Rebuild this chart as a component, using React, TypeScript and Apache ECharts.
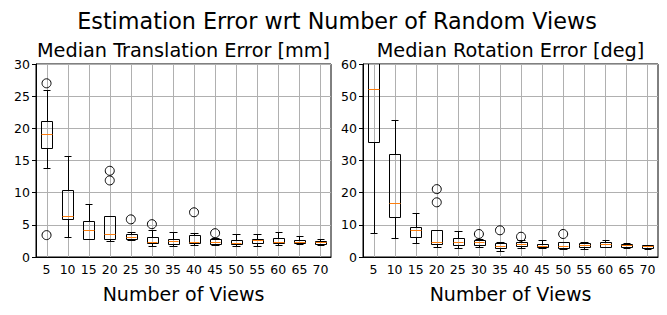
import React, { useEffect, useRef } from "react";
import * as echarts from "echarts";

const categories = ["5", "10", "15", "20", "25", "30", "35", "40", "45", "50", "55", "60", "65", "70"];

// Translation error [mm]: whisker low, Q1, median, Q3, whisker high
const transLow = [13.8, 3.1, 2.8, 2.45, 2.6, 1.7, 1.7, 1.8, 1.85, 1.65, 1.65, 1.9, 2.0, 1.85];
const transQ1 = [17.0, 5.9, 2.85, 2.75, 2.85, 2.2, 2.0, 2.1, 2.0, 2.0, 2.1, 2.2, 2.1, 2.05];
const transMed = [19.1, 6.4, 4.15, 3.6, 3.1, 2.3, 2.5, 2.4, 2.3, 2.1, 2.6, 2.4, 2.35, 2.3];
const transQ3 = [21.1, 10.4, 5.55, 6.4, 3.6, 3.1, 2.75, 3.4, 2.75, 2.65, 2.8, 2.95, 2.6, 2.5];
const transHigh = [26.0, 15.7, 8.2, 6.4, 3.9, 4.2, 3.85, 3.7, 2.9, 3.6, 3.6, 3.9, 3.2, 2.75];
const transOutliers: [number, number][] = [
  [0, 27.0], [0, 3.4], [3, 13.4], [3, 11.9], [4, 5.85], [5, 5.1], [7, 6.95], [8, 3.7],
];

// Rotation error [deg]
const rotLow = [7.4, 5.8, 4.3, 3.0, 2.7, 3.1, 1.9, 2.7, 2.8, 2.5, 2.4, 3.0, 2.7, 2.5];
const rotQ1 = [35.7, 12.3, 6.1, 3.95, 3.6, 3.6, 2.7, 3.5, 3.0, 2.7, 3.0, 3.0, 3.1, 2.8];
const rotMed = [52.1, 16.7, 8.3, 4.8, 4.8, 4.8, 3.4, 4.15, 3.4, 3.3, 3.7, 3.95, 3.7, 3.3];
const rotQ3 = [68.0, 31.9, 9.2, 8.3, 5.8, 5.2, 4.4, 4.8, 4.0, 4.65, 4.25, 4.65, 4.15, 3.6];
const rotHigh = [85.0, 42.5, 13.6, 8.3, 8.0, 5.5, 4.6, 5.3, 5.3, 4.65, 4.65, 5.3, 4.35, 3.8];
const rotOutliers: [number, number][] = [
  [3, 21.1], [3, 17.0], [5, 7.15], [6, 8.3], [7, 6.3], [9, 7.15],
];

const FONT = "DejaVu Sans";

function boxData(lo: number[], q1: number[], med: number[], q3: number[], hi: number[]) {
  return categories.map((_, i) => [i, lo[i], q1[i], med[i], q3[i], hi[i]]);
}

const px = (v: number) => Math.round(v) + 0.5;

function renderBox(params: any, api: any) {
  const idx = api.value(0);
  const band = api.size([1, 0])[0];
  const bw = band * 0.5;
  const cw = band * 0.36;
  const [cx, yLo] = api.coord([idx, api.value(1)]);
  const yQ1 = api.coord([idx, api.value(2)])[1];
  const yMed = api.coord([idx, api.value(3)])[1];
  const yQ3 = api.coord([idx, api.value(4)])[1];
  const yHi = api.coord([idx, api.value(5)])[1];
  const x = px(cx);
  const lineStyle = { stroke: "#000", lineWidth: 1, fill: null };
  return {
    type: "group",
    children: [
      { type: "line", shape: { x1: x, y1: px(yLo), x2: x, y2: px(yQ1) }, style: lineStyle },
      { type: "line", shape: { x1: x, y1: px(yQ3), x2: x, y2: px(yHi) }, style: lineStyle },
      { type: "line", shape: { x1: px(cx - cw / 2), y1: px(yLo), x2: px(cx + cw / 2), y2: px(yLo) }, style: lineStyle },
      { type: "line", shape: { x1: px(cx - cw / 2), y1: px(yHi), x2: px(cx + cw / 2), y2: px(yHi) }, style: lineStyle },
      {
        type: "rect",
        shape: { x: px(cx - bw / 2), y: px(yQ3), width: Math.round(bw), height: px(yQ1) - px(yQ3) },
        style: { stroke: "#000", lineWidth: 1, fill: "none" },
      },
      { type: "line", shape: { x1: px(cx - bw / 2), y1: px(yMed), x2: px(cx + bw / 2), y2: px(yMed) }, style: { stroke: "#ff7f0e", lineWidth: 1 } },
    ],
  };
}

function renderVGrid(params: any, api: any) {
  const idx = api.value(0);
  const cx = api.coord([idx, 0])[0];
  const cs = params.coordSys;
  return {
    type: "line",
    shape: { x1: px(cx), y1: cs.y, x2: px(cx), y2: cs.y + cs.height },
    style: { stroke: "#b0b0b0", lineWidth: 1 },
  };
}

export default function App() {
  const ref = useRef<HTMLDivElement>(null);
  useEffect(() => {
    if (!ref.current) return;
    const chart = echarts.init(ref.current, null, { renderer: "svg" });
    const axisLabel = { color: "#000", fontSize: 12.5, fontFamily: FONT };
    const xAxisBase = (gridIndex: number) => ({
      type: "category",
      gridIndex,
      data: categories,
      boundaryGap: true,
      axisLine: { lineStyle: { color: "#000", width: 1 } },
      axisTick: { alignWithLabel: true, length: 4, lineStyle: { color: "#000" } },
      axisLabel: { ...axisLabel, margin: 6, interval: 0 },
      splitLine: { show: false },
      name: "Number of Views",
      nameLocation: "middle",
      nameGap: 27,
      nameTextStyle: { color: "#000", fontSize: 19, fontFamily: FONT },
    });
    const yAxisBase = (gridIndex: number, max: number, interval: number) => ({
      type: "value",
      gridIndex,
      min: 0,
      max,
      interval,
      axisLine: { show: true, lineStyle: { color: "#000", width: 1 } },
      axisTick: { show: true, length: 4, lineStyle: { color: "#000" } },
      axisLabel: { ...axisLabel, margin: 6 },
      splitLine: { show: true, lineStyle: { color: "#b0b0b0", width: 1 } },
    });
    const gridIdx = categories.map((_, i) => [i]);
    const outlierStyle = { color: "rgba(0,0,0,0)", borderColor: "#000", borderWidth: 1, opacity: 1 };
    chart.setOption({
      animation: false,
      backgroundColor: "#fff",
      grid: [
        { left: 36, top: 64, width: 295, height: 193, show: true, borderColor: "#000", borderWidth: 1, backgroundColor: "transparent" },
        { left: 363, top: 64, width: 295, height: 193, show: true, borderColor: "#000", borderWidth: 1, backgroundColor: "transparent" },
      ],
      xAxis: [xAxisBase(0), xAxisBase(1)],
      yAxis: [yAxisBase(0, 30, 5), yAxisBase(1, 60, 10)],
      graphic: [
        { type: "text", x: 337, y: 21, style: { text: "Estimation Error wrt Number of Random Views", font: `22.3px '${FONT}'`, fill: "#000", textAlign: "center", textVerticalAlign: "middle" } },
        { type: "text", x: 183.5, y: 50, style: { text: "Median Translation Error [mm]", font: `19.3px '${FONT}'`, fill: "#000", textAlign: "center", textVerticalAlign: "middle" } },
        { type: "text", x: 510.5, y: 50, style: { text: "Median Rotation Error [deg]", font: `19.3px '${FONT}'`, fill: "#000", textAlign: "center", textVerticalAlign: "middle" } },
      ],
      series: [
        { type: "custom", xAxisIndex: 0, yAxisIndex: 0, data: gridIdx, renderItem: renderVGrid, z: 1, silent: true },
        { type: "custom", xAxisIndex: 1, yAxisIndex: 1, data: gridIdx, renderItem: renderVGrid, z: 1, silent: true },
        {
          type: "custom", xAxisIndex: 0, yAxisIndex: 0, clip: true, z: 3,
          data: boxData(transLow, transQ1, transMed, transQ3, transHigh),
          encode: { x: 0, y: [1, 2, 3, 4, 5] },
          renderItem: renderBox,
        },
        {
          type: "custom", xAxisIndex: 1, yAxisIndex: 1, clip: true, z: 3,
          data: boxData(rotLow, rotQ1, rotMed, rotQ3, rotHigh),
          encode: { x: 0, y: [1, 2, 3, 4, 5] },
          renderItem: renderBox,
        },
        {
          type: "scatter", xAxisIndex: 0, yAxisIndex: 0, data: transOutliers, symbol: "circle", symbolSize: 9, z: 4,
          itemStyle: outlierStyle,
        },
        {
          type: "scatter", xAxisIndex: 1, yAxisIndex: 1, data: rotOutliers, symbol: "circle", symbolSize: 9, z: 4,
          itemStyle: outlierStyle,
        },
      ],
    });
    return () => chart.dispose();
  }, []);
  return <div ref={ref} style={{ position: "fixed", left: 0, top: 0, width: 667, height: 315, background: "#fff" }} />;
}
